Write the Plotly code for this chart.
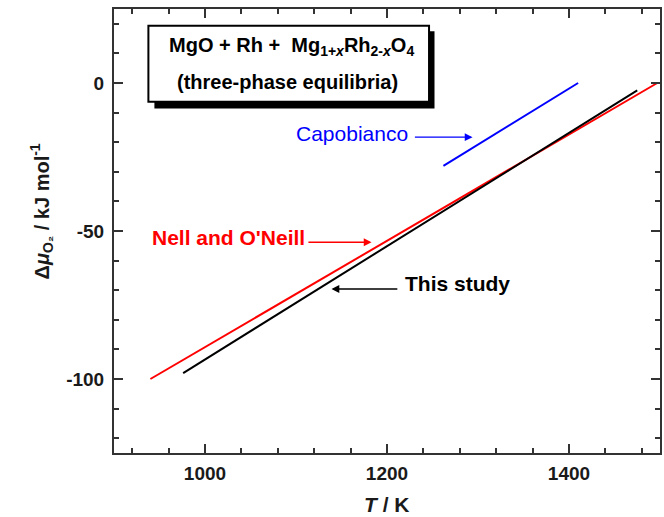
import plotly.graph_objects as go

# Temperature (K) and oxygen chemical potential (kJ/mol) along each equilibrium line
T_this_study = [976, 1475]
mu_this_study = [-98.0, -2.5]

T_nell = [940, 1497]
mu_nell = [-100.0, 0.0]

T_capobianco = [1262, 1410]
mu_capobianco = [-28.0, 0.0]

x_ticks = [1000, 1200, 1400]
x_tick_text = ["1000", "1200", "1400"]
y_ticks = [-100, -50, 0]
y_tick_text = ["-100", "-50", "0"]

FONT = "Arial, Liberation Sans, sans-serif"
INK = "#1a1a1a"

fig = go.Figure()
fig.add_trace(go.Scatter(x=T_nell, y=mu_nell, mode="lines",
                         line=dict(color="#ff0000", width=2), name="Nell and O'Neill"))
fig.add_trace(go.Scatter(x=T_this_study, y=mu_this_study, mode="lines",
                         line=dict(color="#000000", width=2), name="This study"))
fig.add_trace(go.Scatter(x=T_capobianco, y=mu_capobianco, mode="lines",
                         line=dict(color="#0000ff", width=2), name="Capobianco"))

axis_common = dict(
    showgrid=False, zeroline=False, showline=True, linecolor="#333333", linewidth=2,
    mirror="allticks", ticks="inside", ticklen=9, tickwidth=2, tickcolor="#333333",
    tickfont=dict(family=FONT, size=19, color=INK, weight="bold"),
)

fig.update_xaxes(range=[900, 1500], tickvals=x_ticks, ticktext=x_tick_text,
                 ticklabelstandoff=2,
                 minor=dict(tick0=1000, dtick=40, ticks="inside", ticklen=5,
                            tickwidth=2, tickcolor="#333333"),
                 **axis_common)
fig.update_yaxes(range=[-125, 25], tickvals=y_ticks, ticktext=y_tick_text,
                 ticklabelstandoff=4,
                 minor=dict(tick0=0, dtick=10, ticks="inside", ticklen=5,
                            tickwidth=2, tickcolor="#333333"),
                 **axis_common)

# Boxed caption with a drop shadow
shapes = [
    dict(type="rect", xref="paper", yref="paper", x0=0.074, x1=0.587, y0=0.776, y1=0.950,
         fillcolor="#000000", line=dict(width=0), layer="above"),
    dict(type="rect", xref="paper", yref="paper", x0=0.063, x1=0.577, y0=0.791, y1=0.962,
         fillcolor="#ffffff", line=dict(color="#000000", width=2), layer="above"),
]

annotations = [
    dict(xref="paper", yref="paper", x=0.325, y=0.915, xanchor="center", yanchor="middle",
         showarrow=False,
         text="MgO + Rh +  Mg<sub>1+<i>x</i></sub>Rh<sub>2-<i>x</i></sub>O<sub>4</sub>",
         font=dict(family=FONT, size=20, color="#000000", weight="bold")),
    dict(xref="paper", yref="paper", x=0.318, y=0.836, xanchor="center", yanchor="middle",
         showarrow=False, text="(three-phase equilibria)",
         font=dict(family=FONT, size=20, color="#000000", weight="bold")),
    # Series labels
    dict(x=1162, y=-17.2, xanchor="center", showarrow=False, text="Capobianco",
         font=dict(family=FONT, size=21, color="#0000ff")),
    dict(x=1026, y=-52.1, xanchor="center", showarrow=False, text="Nell and O'Neill",
         font=dict(family=FONT, size=21, color="#ff0000", weight="bold")),
    dict(x=1277, y=-67.9, xanchor="center", showarrow=False, text="This study",
         font=dict(family=FONT, size=21, color="#000000", weight="bold")),
    # Pointer arrows
    dict(x=1294, y=-18.3, ax=1229, ay=-18.3, axref="x", ayref="y", text="",
         showarrow=True, arrowhead=2, arrowsize=1.2, arrowwidth=1.3, arrowcolor="#0000ff"),
    dict(x=1183, y=-53.8, ax=1112, ay=-53.8, axref="x", ayref="y", text="",
         showarrow=True, arrowhead=2, arrowsize=1.2, arrowwidth=1.3, arrowcolor="#ff0000"),
    dict(x=1139, y=-69.6, ax=1213, ay=-69.6, axref="x", ayref="y", text="",
         showarrow=True, arrowhead=2, arrowsize=1.2, arrowwidth=1.3, arrowcolor="#000000"),
    # Axis titles
    dict(xref="paper", yref="paper", x=-0.133, y=0.545, xanchor="center", yanchor="middle",
         showarrow=False, textangle=-90,
         text="Δ<i>μ</i><sub>O₂</sub> / kJ mol<sup>-1</sup>",
         font=dict(family=FONT, size=20, color=INK, weight="bold")),
    dict(xref="paper", yref="paper", x=0.5, y=-0.115, xanchor="center", yanchor="middle",
         showarrow=False, text="<i>T</i> / K",
         font=dict(family=FONT, size=21, color=INK, weight="bold")),
]

fig.update_layout(
    width=664, height=517,
    margin=dict(l=114, r=2, t=9, b=64),
    plot_bgcolor="#ffffff", paper_bgcolor="#ffffff",
    showlegend=False,
    shapes=shapes, annotations=annotations,
)

fig.write_html("out.html")
